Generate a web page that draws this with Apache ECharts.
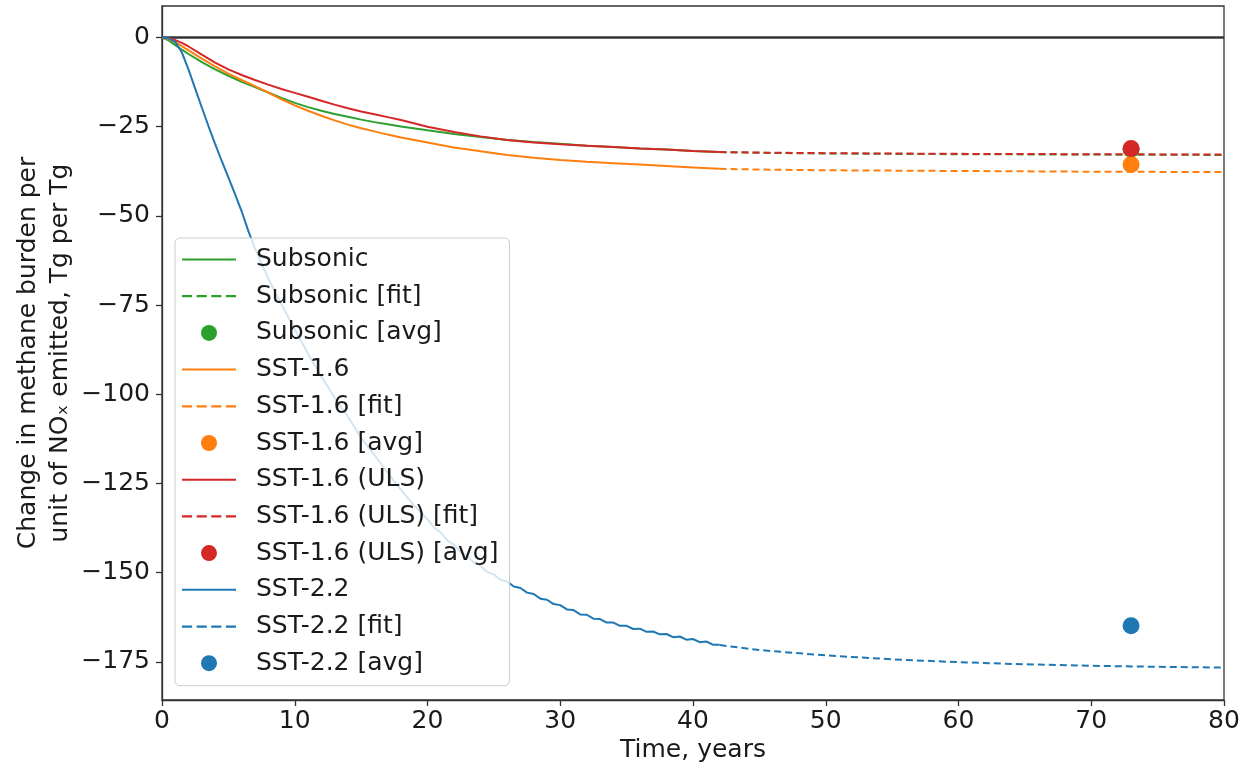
<!DOCTYPE html>
<html>
<head>
<meta charset="utf-8">
<script src="https://cdn.jsdelivr.net/npm/echarts@6/dist/echarts.min.js"></script>
<style>
html,body{margin:0;padding:0;background:#fff;}
#chart{width:1247px;height:765px;}
</style>
</head>
<body>
<div id="chart"></div>
<script>
// ---- data ----
const years = [0,0.5,1,1.5,2,3,4,5,6,7,8,9,10,11,12,13,14,15,16,17,18,20,22,24,26,28,30,32,34,36,38,40,42];
const subsonic = [0,-0.8,-2.1,-3.4,-4.6,-6.9,-8.9,-10.7,-12.4,-13.9,-15.4,-16.9,-18.3,-19.5,-20.5,-21.4,-22.2,-23.0,-23.7,-24.3,-24.9,-26.0,-27.0,-27.9,-28.7,-29.3,-29.8,-30.3,-30.7,-31.1,-31.4,-31.8,-32.1];
const sst16 = [0,-0.4,-1.3,-2.4,-3.6,-5.9,-8.1,-10.1,-11.9,-13.6,-15.4,-17.3,-19.0,-20.5,-21.9,-23.2,-24.4,-25.4,-26.3,-27.2,-28.0,-29.4,-30.8,-31.9,-32.9,-33.7,-34.3,-34.8,-35.2,-35.6,-36.0,-36.4,-36.8];
const sst16uls = [0,-0.2,-0.7,-1.5,-2.5,-4.8,-7.0,-8.9,-10.5,-11.9,-13.2,-14.4,-15.5,-16.6,-17.7,-18.8,-19.8,-20.7,-21.5,-22.3,-23.1,-25.0,-26.5,-27.7,-28.7,-29.4,-29.9,-30.3,-30.7,-31.1,-31.4,-31.8,-32.1];

const years22 = [0,0.5,1,1.5,2,2.5,3,3.5,4,4.5,5,5.5,6,6.5,7,7.5,8,8.5,9,10,11,12,13,14,15,16,17,18,19,
  20,20.5,21,21.5,22,22.5,23,23.5,24,24.5,25,25.5,26,26.5,27,27.5,28,28.5,29,29.5,30,30.5,31,31.5,32,32.5,
  33,33.5,34,34.5,35,35.5,36,36.5,37,37.5,38,38.5,39,39.5,40,40.5,41,41.5,42];
const sst22 = [0,-0.2,-1.2,-4.2,-9.0,-14.3,-19.6,-24.8,-29.8,-34.6,-39.2,-43.9,-48.7,-54.2,-59.0,-63.4,-67.5,-71.2,-74.8,-81.8,-88.6,-95.0,-100.9,-106.3,-112.2,-117.0,-122.0,-126.8,-131.2,
  -135.0,-137.4,-138.7,-141.0,-142.2,-144.3,-145.3,-147.2,-148.1,-149.8,-150.5,-152.0,-152.5,-153.9,-154.3,-155.6,-156.0,-157.3,-157.6,-158.8,-159.1,-160.3,-160.5,-161.7,-161.8,-162.9,
  -163.0,-164.0,-164.0,-164.9,-164.9,-165.8,-165.7,-166.6,-166.5,-167.3,-167.2,-168.1,-167.9,-168.8,-168.6,-169.5,-169.3,-170.2,-170.2];

const fitYears = [42,45,50,55,60,65,70,75,80];
const subsonicFit = [-32.1,-32.3,-32.5,-32.6,-32.7,-32.75,-32.8,-32.85,-32.9];
const sst16Fit = [-36.8,-37.0,-37.2,-37.3,-37.4,-37.5,-37.6,-37.65,-37.7];
const sst16ulsFit = [-32.1,-32.25,-32.4,-32.5,-32.6,-32.65,-32.7,-32.75,-32.8];
const sst22Fit = [-170.3,-171.7,-173.2,-174.3,-175.1,-175.7,-176.1,-176.4,-176.6];

const avgYear = 73;
const subsonicAvg = -31.3;
const sst16Avg = -35.6;
const sst16ulsAvg = -31.1;
const sst22Avg = -164.9;

const yTicks = [0,-25,-50,-75,-100,-125,-150,-175];
const xTicks = [0,10,20,30,40,50,60,70,80];

const names = ['Subsonic','Subsonic [fit]','Subsonic [avg]','SST-1.6','SST-1.6 [fit]','SST-1.6 [avg]',
  'SST-1.6 (ULS)','SST-1.6 (ULS) [fit]','SST-1.6 (ULS) [avg]','SST-2.2','SST-2.2 [fit]','SST-2.2 [avg]'];
const kinds = ['solid','dashed','dot','solid','dashed','dot','solid','dashed','dot','solid','dashed','dot'];

const C = {green:'#2ca02c', orange:'#ff7f0e', red:'#d62728', blue:'#1f77b4'};
const FONT = 'DejaVu Sans';
const TXT = '#1a1a1a';

const ICON_SOLID = 'path://M0,0h54v2h-54z';
const ICON_DASH = 'path://M0,0h9v2h-9z M13,0h9v2h-9z M26,0h9v2h-9z M39,0h9v2h-9z';

function pairs(xs, ys){ return xs.map((x,i)=>[x, ys[i]]); }
function solid(name, color, xs, ys){
  return {name, type:'line', data:pairs(xs,ys), symbol:'none', showSymbol:false, smooth:false,
    lineStyle:{color, width:2}, itemStyle:{color}, emphasis:{disabled:true}, animation:false, z:3};
}
function dashed(name, color, xs, ys){
  return {name, type:'line', data:pairs(xs,ys), symbol:'none', showSymbol:false,
    lineStyle:{color, width:2, type:[7,4]}, itemStyle:{color}, emphasis:{disabled:true}, animation:false, z:3};
}
function dot(name, color, x, y){
  return {name, type:'scatter', data:[[x,y]], symbol:'circle', symbolSize:17,
    itemStyle:{color, opacity:1}, emphasis:{disabled:true}, animation:false, z:4};
}
const fmt = v => v < 0 ? '\u2212' + Math.abs(v) : String(v);

const legendData = names.map((n,i)=>({
  name:n,
  icon: kinds[i]==='solid' ? ICON_SOLID : (kinds[i]==='dashed' ? ICON_DASH : 'circle')
}));

const chart = echarts.init(document.getElementById('chart'), null, {renderer:'canvas'});
chart.setOption({
  animation:false,
  backgroundColor:'#fff',
  textStyle:{fontFamily:FONT},
  grid:{left:162, right:23, top:6, bottom:65, containLabel:false, outerBoundsMode:'none',
    show:true, borderColor:'#333', borderWidth:1.3, backgroundColor:'transparent'},
  xAxis:{type:'value', min:0, max:80, interval:10,
    name:'Time, years', nameLocation:'middle', nameGap:38, nameMoveOverlap:false,
    nameTextStyle:{fontFamily:FONT, fontSize:25, color:TXT},
    axisLine:{show:true, onZero:false, lineStyle:{color:'#333', width:1.3}},
    axisTick:{show:true, length:6, lineStyle:{color:'#333', width:1.3}},
    axisLabel:{fontFamily:FONT, fontSize:25, color:TXT, margin:9, customValues:xTicks},
    splitLine:{show:false}},
  yAxis:{type:'value', min:-185.7, max:8.85,
    name:'Change in methane burden per\nunit of NO\u2093 emitted, Tg per Tg',
    nameLocation:'middle', nameRotate:90, nameGap:86, nameMoveOverlap:false,
    nameTextStyle:{fontFamily:FONT, fontSize:25, color:TXT, lineHeight:32, align:'center'},
    axisLine:{show:true, onZero:false, lineStyle:{color:'#333', width:1.3}},
    axisTick:{show:true, length:6, customValues:yTicks, lineStyle:{color:'#333', width:1.3}},
    axisLabel:{fontFamily:FONT, fontSize:25, color:TXT, margin:12, customValues:yTicks, formatter:fmt},
    splitLine:{show:false}},
  legend:{
    data:legendData, orient:'vertical', left:175, top:238,
    itemWidth:54, itemHeight:16, itemGap:11.7, symbolKeepAspect:true,
    padding:[9,11,10,7],
    backgroundColor:'rgba(255,255,255,0.8)', borderColor:'#cccccc', borderWidth:1, borderRadius:5,
    textStyle:{fontFamily:FONT, fontSize:25, color:TXT, padding:[0,0,0,15]},
    selectedMode:false, z:10
  },
  series:[
    {name:'zero', type:'line', data:[[0,0],[80,0]], symbol:'none', lineStyle:{color:'#333', width:2.4},
      silent:true, animation:false, z:2, emphasis:{disabled:true}},
    solid(names[0], C.green, years, subsonic),
    dashed(names[1], C.green, fitYears, subsonicFit),
    dot(names[2], C.green, avgYear, subsonicAvg),
    solid(names[3], C.orange, years, sst16),
    dashed(names[4], C.orange, fitYears, sst16Fit),
    dot(names[5], C.orange, avgYear, sst16Avg),
    solid(names[6], C.red, years, sst16uls),
    dashed(names[7], C.red, fitYears, sst16ulsFit),
    dot(names[8], C.red, avgYear, sst16ulsAvg),
    solid(names[9], C.blue, years22, sst22),
    dashed(names[10], C.blue, fitYears, sst22Fit),
    dot(names[11], C.blue, avgYear, sst22Avg)
  ]
});
</script>
</body>
</html>
